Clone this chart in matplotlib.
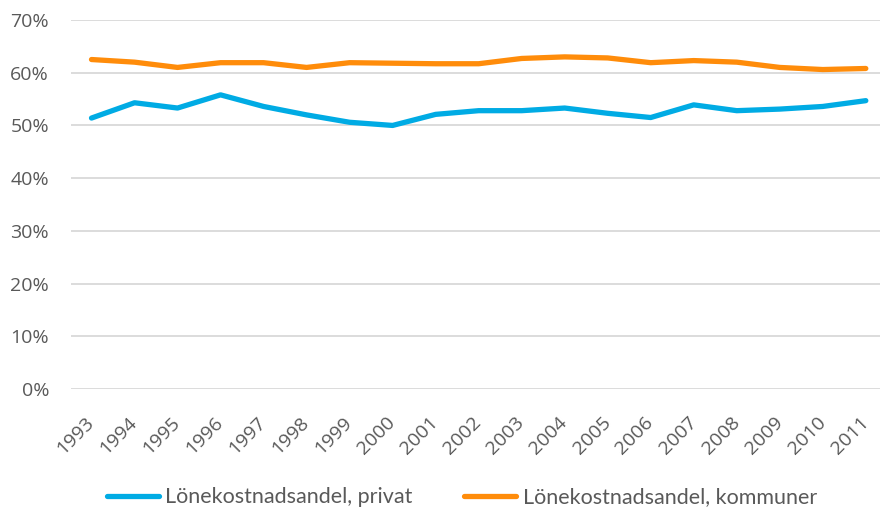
import matplotlib
matplotlib.use("Agg")
import matplotlib.pyplot as plt
from matplotlib.ticker import FuncFormatter

# values (share in %)
years = [str(y) for y in range(1993, 2012)]
privat = [51.4, 54.3, 53.3, 55.8, 53.6, 52.0, 50.6, 50.0, 52.1, 52.8,
          52.8, 53.3, 52.3, 51.5, 53.9, 52.8, 53.1, 53.6, 54.7]
kommuner = [62.5, 62.0, 61.0, 61.9, 61.9, 61.0, 61.9, 61.8, 61.7, 61.7,
            62.7, 63.0, 62.8, 61.9, 62.3, 62.0, 61.0, 60.6, 60.8]
series_names = ["Lönekostnadsandel, privat", "Lönekostnadsandel, kommuner"]

plt.rcParams['font.family'] = ['Open Sans', 'DejaVu Sans']
text_col = "#595959"

fig = plt.figure(figsize=(8.8, 5.12), dpi=100)
ax = fig.add_axes([0.081, 0.240, 0.919, 0.721])

x = list(range(len(years)))
ax.plot(x, privat, color="#00ABE4", lw=3.8, solid_capstyle="round",
        label=series_names[0])
ax.plot(x, kommuner, color="#FF8C0A", lw=3.8, solid_capstyle="round",
        label=series_names[1])

ax.set_ylim(0, 70)
ax.set_yticks(range(0, 71, 10))
ax.yaxis.set_major_formatter(FuncFormatter(lambda v, p: "%d%%" % v))
ax.set_xlim(-0.47, 18.33)
ax.set_xticks(x)
ax.set_xticklabels(years, rotation=45, ha="right", va="center",
                   rotation_mode="anchor")

ax.grid(axis="y", color="#D9D9D9", lw=1.3)
ax.set_axisbelow(True)
for s in ax.spines.values():
    s.set_visible(False)
ax.tick_params(length=0, colors=text_col)
ax.tick_params(axis="y", labelsize=14, pad=16)
ax.tick_params(axis="x", labelsize=14, pad=22)

fig.legend(loc="center", bbox_to_anchor=(0.525, 0.029), ncol=2, frameon=False,
           handlelength=2.4, handletextpad=0.3, columnspacing=2.4,
           labelcolor=text_col, prop={'family': ['Lato', 'DejaVu Sans'], 'size': 15.5})

fig.savefig("out.png", dpi=100)
